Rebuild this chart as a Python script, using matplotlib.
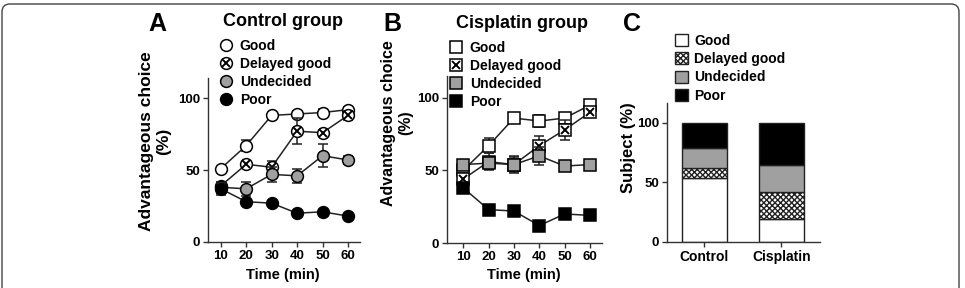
import matplotlib
matplotlib.use('Agg')
import matplotlib.pyplot as plt
from matplotlib.lines import Line2D
from matplotlib.patches import Patch, FancyBboxPatch
from matplotlib.legend_handler import HandlerTuple

plt.rcParams['font.family'] = ['Liberation Sans', 'DejaVu Sans']
plt.rcParams['font.weight'] = 'bold'
plt.rcParams['axes.linewidth'] = 1.0
plt.rcParams['hatch.linewidth'] = 1.0

# ---- data ----
time = [10, 20, 30, 40, 50, 60]
series_names = ['Good', 'Delayed good', 'Undecided', 'Poor']

ctrl_good = [51, 67, 88, 89, 90, 92]
ctrl_good_err = [0, 4, 0, 2, 2.5, 2]
ctrl_delayed = [39, 54, 52, 77, 76, 88]
ctrl_delayed_err = [3, 0, 4, 9, 0, 3]
ctrl_undec = [38, 37, 47, 46, 60, 57]
ctrl_undec_err = [4, 5, 5, 5, 8, 3]
ctrl_poor = [37, 28, 27, 20, 21, 18]
ctrl_poor_err = [4, 1, 1, 1, 1, 1]

cis_good = [50, 67, 86, 84, 86, 95]
cis_good_err = [3, 5, 2, 4, 3, 2]
cis_delayed = [44, 56, 54, 67, 78, 90]
cis_delayed_err = [4, 6, 6, 7, 7, 2]
cis_undec = [54, 55, 54, 60, 53, 54]
cis_undec_err = [3, 4, 5, 6, 3, 2]
cis_poor = [38, 23, 22, 12, 20, 19]
cis_poor_err = [2, 1, 1, 2, 1, 1]

groups = ['Control', 'Cisplatin']
subj_good = [54, 19]
subj_delayed = [8, 23]
subj_undec = [17, 23]
subj_poor = [21, 35]

W, H = 965, 288
fig = plt.figure(figsize=(W / 100, H / 100), dpi=100)


def px_axes(l, r, t, b):
    return fig.add_axes([l / W, 1 - b / H, (r - l) / W, (b - t) / H])


def style_axes(ax):
    for s in ['top', 'right']:
        ax.spines[s].set_visible(False)
    for s in ['left', 'bottom']:
        ax.spines[s].set_color('#333333')
    ax.tick_params(direction='out', length=3.5, width=1.0, color='#333333',
                   labelsize=9.5, pad=2)
    for lab in ax.get_xticklabels() + ax.get_yticklabels():
        lab.set_fontweight('bold')


faces = ['white', 'white', '#a0a0a0', 'black']


def time_panel(ax, marker, ms, vals, errs):
    for i, (v, e) in enumerate(zip(vals, errs)):
        ax.errorbar(time, v, yerr=e, fmt='-', marker=marker, ms=ms,
                    mfc=faces[i], mec='black', mew=1.1, color='#222222',
                    lw=1.1, capsize=3.5, elinewidth=1.1, capthick=1.1,
                    zorder=2 + i, clip_on=False)
        if i == 1:
            ax.plot(time, v, 'x', ms=ms * 0.62, mew=1.4, color='black',
                    zorder=2 + i + 0.5, clip_on=False)
    ax.set_xticks(time)
    ax.set_yticks([0, 50, 100])
    style_axes(ax)


def time_legend(ax, marker, ms, x, y):
    handles = []
    for i in range(4):
        h = Line2D([], [], ls='none', marker=marker, ms=ms, mfc=faces[i],
                   mec='black', mew=1.1)
        if i == 1:
            h = (h, Line2D([], [], ls='none', marker='x', ms=ms * 0.62,
                           mew=1.4, color='black'))
        handles.append(h)
    ax.legend(handles, series_names, loc='upper left',
              bbox_to_anchor=(x / W, 1 - y / H), bbox_transform=fig.transFigure,
              frameon=False, handlelength=1.0, handletextpad=0.5,
              labelspacing=0.28, borderpad=0, borderaxespad=0,
              handler_map={tuple: HandlerTuple(ndivide=1)},
              prop={'weight': 'bold', 'size': 10})


# ---- Panel A ----
axA = px_axes(208, 360, 78, 242)
time_panel(axA, 'o', 8.5, [ctrl_good, ctrl_delayed, ctrl_undec, ctrl_poor],
           [ctrl_good_err, ctrl_delayed_err, ctrl_undec_err, ctrl_poor_err])
axA.set_xlim(5, 64.7)
axA.set_ylim(0, 114)
time_legend(axA, 'o', 8.5, 219, 39)
fig.text(283 / W, 1 - 22 / H, 'Control group', fontsize=13, ha='center',
         va='center')
fig.text(157 / W, 1 - 24 / H, 'A', fontsize=18, ha='center', va='center')
fig.text(147 / W, 1 - 141 / H, 'Advantageous choice', rotation=90,
         fontsize=12.5, ha='center', va='center')
fig.text(164 / W, 1 - 141 / H, '(%)', rotation=90, fontsize=12.5,
         ha='center', va='center')
fig.text(283 / W, 1 - 275 / H, 'Time (min)', fontsize=10.5, ha='center',
         va='center')

# ---- Panel B ----
axB = px_axes(446.7, 602, 76, 243)
time_panel(axB, 's', 9, [cis_good, cis_delayed, cis_undec, cis_poor],
           [cis_good_err, cis_delayed_err, cis_undec_err, cis_poor_err])
axB.set_xlim(3.5, 64.7)
axB.set_ylim(0, 115)
time_legend(axB, 's', 9, 449, 41)
fig.text(522 / W, 1 - 23 / H, 'Cisplatin group', fontsize=13, ha='center',
         va='center')
fig.text(392 / W, 1 - 24 / H, 'B', fontsize=18, ha='center', va='center')
fig.text(388 / W, 1 - 123 / H, 'Advantageous choice', rotation=90,
         fontsize=11.5, ha='center', va='center')
fig.text(406 / W, 1 - 123 / H, '(%)', rotation=90, fontsize=11.5,
         ha='center', va='center')
fig.text(524 / W, 1 - 275 / H, 'Time (min)', fontsize=10.5, ha='center',
         va='center')

# ---- Panel C ----
axC = px_axes(666.7, 820, 103, 242)
x = [0, 1]
bw = 0.58
b1 = subj_good
b2 = [a + b for a, b in zip(b1, subj_delayed)]
b3 = [a + b for a, b in zip(b2, subj_undec)]
axC.bar(x, subj_good, bw, color='white', edgecolor='#222222', lw=1.0)
axC.bar(x, subj_delayed, bw, bottom=b1, color='white', edgecolor='#222222',
        lw=1.0, hatch='xxxxxx')
axC.bar(x, subj_undec, bw, bottom=b2, color='#a0a0a0', edgecolor='#222222',
        lw=1.0)
axC.bar(x, subj_poor, bw, bottom=b3, color='black', edgecolor='#222222',
        lw=1.0)
axC.set_xlim(-0.487, 1.5)
axC.set_ylim(0, 116.7)
axC.set_xticks(x)
axC.set_xticklabels(groups)
axC.set_yticks([0, 50, 100])
style_axes(axC)
axC.tick_params(axis='x', labelsize=10)
patches = [Patch(facecolor='white', edgecolor='#222222'),
           Patch(facecolor='white', edgecolor='#222222', hatch='xxxxxx'),
           Patch(facecolor='#a0a0a0', edgecolor='#222222'),
           Patch(facecolor='black', edgecolor='#222222')]
axC.legend(patches, series_names, loc='upper left',
           bbox_to_anchor=(675 / W, 1 - 34 / H), bbox_transform=fig.transFigure,
           frameon=False, handlelength=0.95, handleheight=0.95,
           handletextpad=0.45, labelspacing=0.3, borderpad=0, borderaxespad=0,
           prop={'weight': 'bold', 'size': 10})
fig.text(632 / W, 1 - 24 / H, 'C', fontsize=18, ha='center', va='center')
fig.text(628 / W, 1 - 148 / H, 'Subject (%)', rotation=90, fontsize=12,
         ha='center', va='center')

# rounded frame around the whole figure
frame = FancyBboxPatch((0.02, -0.4), 9.57, 3.24,
                       boxstyle='round,pad=0,rounding_size=0.08',
                       transform=fig.dpi_scale_trans, fill=False,
                       edgecolor='#444444', lw=1.0)
fig.patches.append(frame)

fig.savefig('out.png', dpi=100)
